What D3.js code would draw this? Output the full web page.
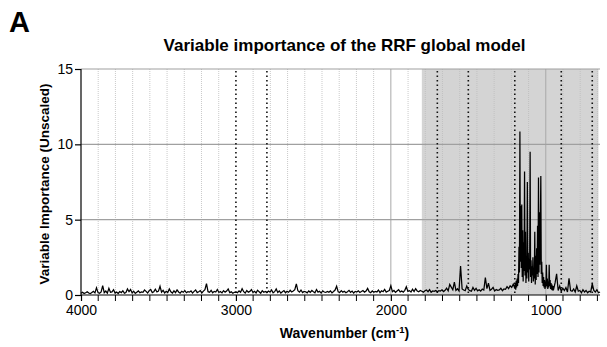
<!DOCTYPE html>
<html>
<head>
<meta charset="utf-8">
<script src="https://cdn.jsdelivr.net/npm/d3@7"></script>
<style>
  body { margin: 0; background: #fff; }
  svg { display: block; font-family: "Liberation Sans", Arial, sans-serif; }
</style>
</head>
<body>
<svg id="chart" width="607" height="347"></svg>
<script>
// ---------- Данные (importance vs wavenumber) ----------
// 4000 -> 3010, step 10
const imp4000 = [
  0.12,0.18,0.10,0.15,0.22,0.13,0.09,0.17,0.24,0.14,
  0.48,0.16,0.11,0.20,0.62,0.15,0.26,0.12,0.44,0.18,
  0.21,0.35,0.13,0.19,0.10,0.23,0.16,0.28,0.12,0.17,
  0.40,0.22,0.36,0.14,0.25,0.11,0.19,0.27,0.15,0.21,
  0.18,0.33,0.24,0.13,0.29,0.37,0.16,0.22,0.38,0.20,
  0.26,0.58,0.19,0.31,0.14,0.24,0.17,0.40,0.21,0.13,
  0.28,0.16,0.34,0.20,0.12,0.25,0.18,0.30,0.15,0.22,
  0.19,0.27,0.13,0.24,0.33,0.16,0.21,0.29,0.14,0.26,
  0.35,0.76,0.22,0.18,0.31,0.15,0.24,0.20,0.37,0.17,
  0.23,0.14,0.29,0.19,0.26,0.40,0.16,0.21,0.12,0.18
];
// 3000 -> 2010, step 10
const imp3000 = [
  0.20,0.15,0.27,0.18,0.42,0.22,0.13,0.30,0.19,0.24,
  0.36,0.17,0.25,0.14,0.32,0.21,0.12,0.28,0.18,0.23,
  0.16,0.26,0.19,0.34,0.15,0.22,0.40,0.17,0.27,0.13,
  0.21,0.29,0.15,0.24,0.18,0.31,0.20,0.26,0.35,0.74,
  0.28,0.19,0.33,0.16,0.24,0.21,0.14,0.27,0.18,0.30,
  0.22,0.15,0.36,0.19,0.25,0.13,0.28,0.20,0.17,0.24,
  0.18,0.27,0.14,0.23,0.33,0.58,0.21,0.16,0.29,0.19,
  0.25,0.15,0.22,0.31,0.18,0.26,0.13,0.24,0.20,0.28,
  0.17,0.23,0.30,0.19,0.26,0.44,0.21,0.15,0.27,0.18,
  0.24,0.20,0.33,0.16,0.28,0.22,0.37,0.19,0.25,0.30
];
// 2000 -> 1210, step 10
const imp2000 = [
  0.62,0.22,0.30,0.18,0.27,0.35,0.21,0.26,0.19,0.31,
  0.55,0.24,0.29,0.20,0.38,0.23,0.42,0.27,0.21,0.30,
  0.25,0.19,0.28,0.33,0.22,0.36,0.18,0.27,0.24,0.30,
  0.21,0.29,0.26,0.34,0.23,0.31,0.45,0.28,0.70,0.52,
  0.35,0.86,0.30,0.41,0.27,1.93,0.40,0.33,0.29,0.60,
  0.37,0.29,0.25,0.50,0.31,0.44,0.28,0.35,0.26,0.39,
  0.33,1.15,0.42,0.78,0.30,0.38,0.50,0.27,0.36,0.31,
  0.34,0.45,0.29,0.40,0.38,0.55,0.42,0.61,0.50,0.72
];
// 1200 -> 951, step 3 (fingerprint peaks)
const imp1200 = [
  0.45,0.80,0.35,0.95,0.50,1.10,0.60,1.40,0.80,3.20,
  1.50,10.85,2.20,5.90,1.80,6.00,1.20,4.30,0.90,3.50,
  1.60,8.20,1.30,4.20,0.80,2.60,1.10,7.50,1.50,2.80,
  0.90,2.40,1.70,9.50,1.20,2.30,0.80,1.90,1.30,2.50,
  0.90,1.80,1.10,4.20,0.70,2.60,1.00,3.10,1.40,4.60,
  1.20,7.80,1.50,5.50,2.00,4.60,7.90,1.40,2.20,0.80,
  1.50,0.60,1.20,0.50,1.00,0.40,0.90,0.50,2.00,0.60,
  1.10,0.40,0.90,0.50,2.00,0.60,1.00,0.40,0.80,0.35,
  0.70,0.30,0.60,0.30
];
// 950 -> 650, step 10
const imp950 = [
  0.35,0.80,1.40,0.30,0.60,0.25,0.45,0.30,0.50,0.20,
  1.10,0.30,0.25,0.40,0.20,0.60,0.25,0.30,0.15,0.35,
  0.20,0.30,0.15,0.25,0.20,0.75,0.30,0.20,0.35,0.15,
  0.20
];
const segments = [
  { start: 4000, step: 10, values: imp4000 },
  { start: 3000, step: 10, values: imp3000 },
  { start: 2000, step: 10, values: imp2000 },
  { start: 1200, step: 3, values: imp1200 },
  { start: 950, step: 10, values: imp950 }
];

const xDomain = [4000, 650];
const yTicks = [0, 5, 10, 15];
const xMajorTicks = [4000, 3000, 2000, 1000];
const markerLines = [3000, 2800, 1700, 1500, 1200, 900, 700];
const shadedRange = [1800, 660];

const data = segments.flatMap(s => s.values.map((v, i) => ({ wn: s.start - s.step * i, v })));

// ---------- Разметка ----------
const margin = { left: 81, right: 7, top: 69, bottom: 52 };
const W = 607, H = 347;
const svg = d3.select('#chart');

const x = d3.scaleLinear().domain(xDomain).range([margin.left, W - margin.right]);
const y = d3.scaleLinear().domain([0, 15]).range([H - margin.bottom, margin.top]);

// minor ticks: 8 between majors (9 intervals)
const xMinorTicks = [];
for (const m of xMajorTicks) {
  for (let j = 1; j <= 8; j++) {
    const t = m - j * 1000 / 9;
    if (t >= xDomain[1]) xMinorTicks.push(t);
  }
}

svg.append('rect')
  .attr('x', x(shadedRange[0]))
  .attr('y', y(15))
  .attr('width', x(shadedRange[1]) - x(shadedRange[0]))
  .attr('height', y(0) - y(15))
  .attr('fill', '#d4d4d4');

const grid = svg.append('g').attr('class', 'grid');
grid.selectAll('line.minor')
  .data(xMinorTicks)
  .join('line')
  .attr('class', 'minor')
  .attr('x1', d => x(d)).attr('x2', d => x(d))
  .attr('y1', y(15)).attr('y2', y(0))
  .attr('stroke', '#bcbcbc')
  .attr('stroke-width', 0.8)
  .attr('stroke-dasharray', '1,1');

grid.selectAll('line.major')
  .data([2000, 1000])
  .join('line')
  .attr('class', 'major')
  .attr('x1', d => x(d)).attr('x2', d => x(d))
  .attr('y1', y(15)).attr('y2', y(0))
  .attr('stroke', '#a8a8a8')
  .attr('stroke-width', 1);

grid.selectAll('line.h')
  .data([5, 10, 15])
  .join('line')
  .attr('class', 'h')
  .attr('x1', x(xDomain[0])).attr('x2', x(xDomain[1]))
  .attr('y1', d => y(d)).attr('y2', d => y(d))
  .attr('stroke', '#a0a0a0')
  .attr('stroke-width', 1.2);

svg.append('g').selectAll('line')
  .data(markerLines)
  .join('line')
  .attr('x1', d => x(d)).attr('x2', d => x(d))
  .attr('y1', y(15) + 2).attr('y2', y(0))
  .attr('stroke', '#111')
  .attr('stroke-width', 1.6)
  .attr('stroke-dasharray', '1.5,3');

svg.append('path')
  .datum(data)
  .attr('fill', 'none')
  .attr('stroke', '#000')
  .attr('stroke-width', 1.25)
  .attr('stroke-linejoin', 'miter')
  .attr('d', d3.line().x(d => x(d.wn)).y(d => y(d.v)));

// ---------- Оси ----------
const xAxis = svg.append('g')
  .attr('transform', `translate(0,${y(0)})`)
  .call(d3.axisBottom(x).tickValues(xMajorTicks).tickFormat(d3.format('d')).tickSize(6).tickPadding(4));
xAxis.append('g').selectAll('line')
  .data(xMinorTicks)
  .join('line')
  .attr('x1', d => x(d)).attr('x2', d => x(d))
  .attr('y1', 0).attr('y2', 6)
  .attr('stroke', '#000');

const yAxis = svg.append('g')
  .attr('transform', `translate(${x(xDomain[0])},0)`)
  .call(d3.axisLeft(y).tickValues(yTicks).tickSize(6).tickPadding(2));

[xAxis, yAxis].forEach(g => {
  g.select('.domain').attr('stroke', '#000').attr('stroke-width', 1.2);
  g.selectAll('.tick line').attr('stroke', '#000').attr('stroke-width', 1.2);
  g.selectAll('text').attr('font-size', 14).attr('fill', '#000')
    .attr('font-family', '"Liberation Sans", Arial, sans-serif');
});
xAxis.select('.domain').attr('d', `M${x(xDomain[0])},0H${x(xDomain[1])}`);
yAxis.select('.domain').attr('d', `M0,${y(0)}V${y(15)}`);

// ---------- Подписи ----------
svg.append('text')
  .attr('x', 9).attr('y', 32)
  .attr('font-size', 29).attr('font-weight', 'bold')
  .text('A');

svg.append('text')
  .attr('x', (x(xDomain[0]) + x(xDomain[1])) / 2 + 4).attr('y', 51)
  .attr('text-anchor', 'middle')
  .attr('font-size', 17).attr('font-weight', 'bold')
  .text('Variable importance of the RRF global model');

svg.append('text')
  .attr('transform', `translate(49,${(y(0) + y(15)) / 2 + 2}) rotate(-90)`)
  .attr('text-anchor', 'middle')
  .attr('font-size', 13.5).attr('font-weight', 'bold')
  .text('Variable Importance (Unscaled)');

const xl = svg.append('text')
  .attr('x', (x(xDomain[0]) + x(xDomain[1])) / 2 + 4).attr('y', 338)
  .attr('text-anchor', 'middle')
  .attr('font-size', 14).attr('font-weight', 'bold');
xl.append('tspan').text('Wavenumber (cm');
xl.append('tspan').attr('font-size', 9.5).attr('dy', -5).text('-1');
xl.append('tspan').attr('dy', 5).text(')');
</script>
</body>
</html>
